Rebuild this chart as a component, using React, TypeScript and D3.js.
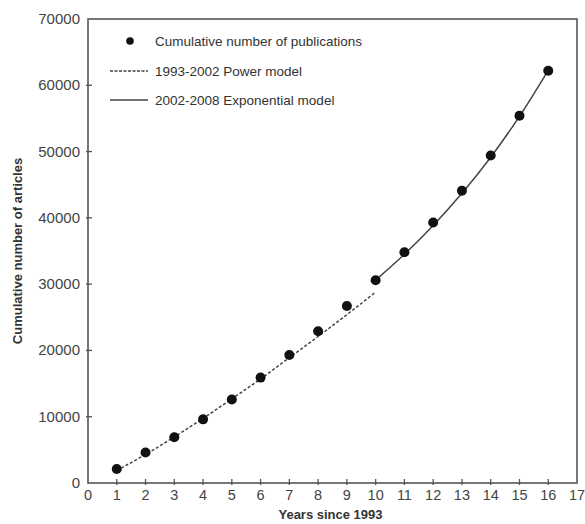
import React from "react";
import * as d3 from "d3";

// observed cumulative counts, years since 1993
const years = [1, 2, 3, 4, 5, 6, 7, 8, 9, 10, 11, 12, 13, 14, 15, 16];
const publications = [
  2100, 4600, 6900, 9600, 12600, 15900, 19300, 22900, 26700, 30600, 34800,
  39300, 44100, 49400, 55400, 62200,
];

// fitted model curves
const powerYears = [1, 2, 3, 4, 5, 6, 7, 8, 9, 10];
const powerValues = [1900, 4300, 6950, 9750, 12700, 15700, 18900, 22100, 25400, 28800];
const expYears = [10, 11, 12, 13, 14, 15, 16];
const expValues = [30600, 34500, 38850, 43700, 49150, 55300, 62250];

const xTicks = d3.range(0, 18);
const yTicks = [0, 10000, 20000, 30000, 40000, 50000, 60000, 70000];

const legendLabels = [
  "Cumulative number of publications",
  "1993-2002 Power model",
  "2002-2008 Exponential model",
];

const W = 585;
const H = 524;
const left = 88;
const right = 577;
const top = 19;
const bottom = 483;

export default function App() {
  const x = d3.scaleLinear().domain([0, 17]).range([left, right]);
  const y = d3.scaleLinear().domain([0, 70000]).range([bottom, top]);

  const powerPath = d3
    .line<number>()
    .x((d, i) => x(powerYears[i]))
    .y((d) => y(d))
    .curve(d3.curveMonotoneX)(powerValues);
  const expPath = d3
    .line<number>()
    .x((d, i) => x(expYears[i]))
    .y((d) => y(d))
    .curve(d3.curveMonotoneX)(expValues);

  const font = "Liberation Sans, Arial, sans-serif";
  const axisCol = "#555";
  const textCol = "#444";

  return (
    <svg
      width={W}
      height={H}
      style={{ position: "absolute", left: 0, top: 0 }}
      fontFamily={font}
    >
      <rect x={0} y={0} width={W} height={H} fill="#fff" />
      {/* frame */}
      <rect
        x={left}
        y={top}
        width={right - left}
        height={bottom - top}
        fill="none"
        stroke={axisCol}
        strokeWidth={1.6}
      />
      {/* x ticks */}
      {xTicks.map((t) => (
        <g key={"x" + t}>
          {t > 0 && t < 17 && (
            <line x1={x(t)} x2={x(t)} y1={bottom - 4} y2={bottom + 2} stroke={axisCol} strokeWidth={1.3} />
          )}
          <text x={x(t)} y={bottom + 17} textAnchor="middle" fontSize={14.5} fill={textCol}>
            {t}
          </text>
        </g>
      ))}
      {/* y ticks */}
      {yTicks.map((t) => (
        <g key={"y" + t}>
          {t > 0 && t < 70000 && (
            <line x1={left - 2} x2={left + 4} y1={y(t)} y2={y(t)} stroke={axisCol} strokeWidth={1.3} />
          )}
          <text x={left - 8} y={y(t) + 5} textAnchor="end" fontSize={15} fill={textCol}>
            {t}
          </text>
        </g>
      ))}
      {/* axis titles */}
      <text
        x={(left + right) / 2 - 2}
        y={519}
        textAnchor="middle"
        fontSize={13}
        fontWeight="bold"
        fill="#333"
      >
        Years since 1993
      </text>
      <text
        transform={`translate(22,${(top + bottom) / 2}) rotate(-90)`}
        textAnchor="middle"
        fontSize={13}
        fontWeight="bold"
        fill="#333"
      >
        Cumulative number of articles
      </text>
      {/* model curves */}
      <path d={powerPath || ""} fill="none" stroke="#444" strokeWidth={1.5} strokeDasharray="3,2" />
      <path d={expPath || ""} fill="none" stroke="#444" strokeWidth={1.5} />
      {/* points */}
      {years.map((yr, i) => (
        <circle key={yr} cx={x(yr)} cy={y(publications[i])} r={5} fill="#111" />
      ))}
      {/* legend */}
      <circle cx={130} cy={41} r={3.8} fill="#111" />
      <line x1={110} x2={148} y1={71} y2={71} stroke="#444" strokeWidth={1.4} strokeDasharray="3,1.5" />
      <line x1={110} x2={148} y1={100} y2={100} stroke="#444" strokeWidth={1.4} />
      {legendLabels.map((l, i) => (
        <text key={l} x={155} y={46 + i * 29.5} fontSize={13.5} fill="#333">
          {l}
        </text>
      ))}
    </svg>
  );
}
